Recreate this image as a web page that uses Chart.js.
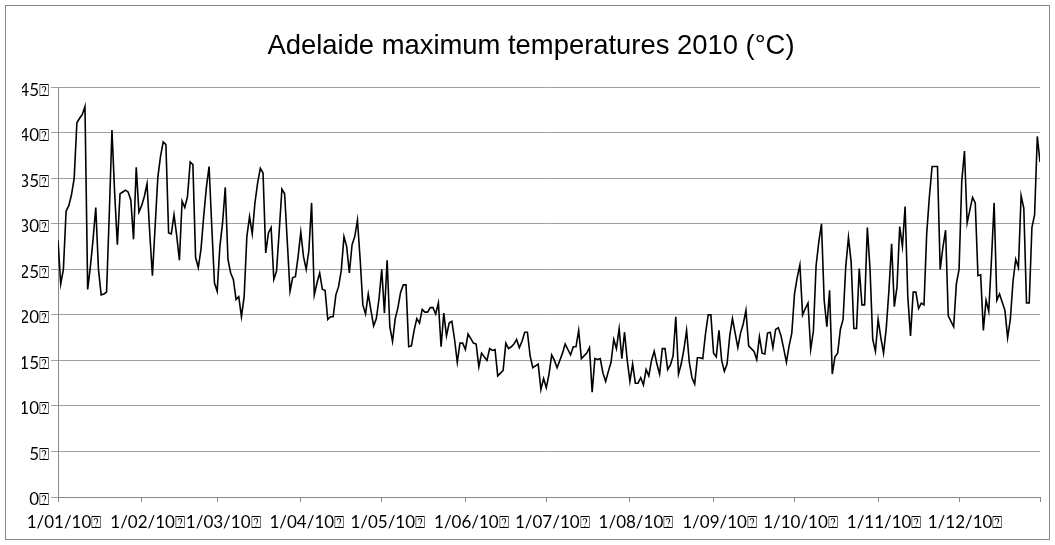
<!DOCTYPE html>
<html>
<head>
<meta charset="utf-8">
<script src="https://cdn.jsdelivr.net/npm/chart.js@4/dist/chart.umd.min.js"></script>
<style>
  html, body { margin: 0; padding: 0; background: #ffffff; }
  #wrap { width: 1055px; height: 545px; position: relative; }
</style>
</head>
<body>
<div id="wrap"><canvas id="chart" width="1055" height="545"></canvas></div>
<script>
// Daily maximum temperature (°C), Adelaide 2010, one array per month
const jan = [28.2,23.4,25.0,31.4,32.0,33.2,35.0,41.1,41.6,42.0,42.9,22.8,25.3,28.3,31.8,25.0,22.2,22.3,22.5,31.0,40.3,33.4,27.7,33.3,33.5,33.7,33.5,32.6,28.3,36.2,31.3];
const feb = [32.0,33.0,34.4,29.0,24.3,29.7,35.1,37.4,39.0,38.7,29.0,28.9,31.0,28.7,26.0,32.5,31.8,33.0,36.8,36.5,26.3,25.2,27.2,30.8,34.0,36.3,29.7,23.5];
const mar = [22.6,27.5,30.1,34.0,26.1,24.6,23.9,21.7,22.0,19.8,22.0,28.6,30.8,28.9,32.3,34.5,36.1,35.6,26.8,29.0,29.6,23.9,24.8,29.2,33.8,33.3,28.0,22.6,24.1,24.2,26.4];
const apr = [29.1,26.4,25.0,27.1,32.3,22.2,23.5,24.6,22.8,22.7,19.5,19.8,19.8,22.2,23.1,24.9,28.6,27.5,24.6,27.7,28.6,30.4,26.1,21.1,20.1,22.3,20.5,18.8,19.6,21.8];
const may = [25.0,20.2,26.0,18.7,17.1,19.6,20.8,22.5,23.3,23.3,16.5,16.6,18.3,19.6,19.1,20.6,20.3,20.3,20.8,20.8,20.1,21.3,16.5,20.2,17.7,19.1,19.3,17.3,14.8,16.9,16.9];
const jun = [16.2,17.9,17.4,16.9,16.8,14.3,15.8,15.4,15.0,16.3,16.1,16.2,13.3,13.6,13.9,16.9,16.3,16.5,16.8,17.3,16.4,17.1,18.1,18.1,15.5,14.2,14.4,14.6,11.8,13.0];
const jul = [12.0,13.5,15.6,15.0,14.2,15.0,15.8,16.8,16.2,15.6,16.5,16.5,18.3,15.2,15.5,15.8,16.4,11.5,15.2,15.1,15.2,13.6,12.7,13.8,14.8,17.3,16.3,18.5,15.2,18.1,15.0];
const aug = [12.7,14.6,12.5,12.5,13.1,12.3,14.0,13.3,15.0,16.0,14.6,13.5,16.3,16.3,14.0,14.5,15.5,19.8,13.5,14.6,16.2,18.3,14.8,13.1,12.4,15.3,15.3,15.2,17.9,20.0,20.0];
const sep = [15.8,15.4,18.3,15.0,13.8,14.6,17.7,19.6,18.0,16.4,18.0,19.0,20.5,16.6,16.3,16.0,15.1,17.6,15.8,15.7,18.0,18.1,16.4,18.4,18.6,17.7,16.3,14.8,16.6,18.0];
const oct = [22.3,24.1,25.5,20.0,20.7,21.3,16.2,18.2,25.4,28.0,30.0,21.6,18.7,22.7,13.5,15.4,15.8,18.4,19.5,25.3,28.5,25.8,18.5,18.5,25.1,21.1,21.1,29.6,25.0,17.3,16.0];
const nov = [19.5,17.5,15.8,18.5,22.7,27.8,20.9,23.1,29.7,27.5,31.9,22.0,17.7,22.5,22.5,20.7,21.3,21.1,28.9,33.0,36.3,36.3,36.3,25.0,27.4,29.3,19.9,19.3,18.7,23.4];
const dec = [25.0,34.7,38.0,30.1,31.5,32.9,32.3,24.3,24.4,18.3,21.6,20.4,26.0,32.3,21.6,22.3,21.4,20.5,17.5,19.5,23.7,26.1,25.2,33.1,31.7,21.3,21.3,29.6,31.0,39.6,36.8];

// Category (month start) labels on the date axis
const monthLabels = ['1/01/10','1/02/10','1/03/10','1/04/10','1/05/10','1/06/10',
                     '1/07/10','1/08/10','1/09/10','1/10/10','1/11/10','1/12/10'];
const yTicks = [0,5,10,15,20,25,30,35,40,45];
const titleText = 'Adelaide maximum temperatures 2010 (°C)';
const unitMark = '\u2370';

const months = [jan,feb,mar,apr,may,jun,jul,aug,sep,oct,nov,dec];
const temps = months.flat();
const points = temps.map((v, i) => ({ x: i, y: v }));

// day index of the first day of every month, plus the last day of the year
const monthStarts = [];
let acc = 0;
months.forEach(m => { monthStarts.push(acc); acc += m.length; });
const lastDay = temps.length - 1;
const xTickValues = monthStarts.concat([lastDay]);
const xTickText = {};
monthStarts.forEach((d, i) => { xTickText[d] = monthLabels[i] + unitMark; });

const frame = {
  id: 'frame',
  beforeDraw(chart) {
    const c = chart.ctx;
    c.save();
    c.fillStyle = '#ffffff';
    c.fillRect(0, 0, chart.width, chart.height);
    c.restore();
  },
  afterDraw(chart) {
    const c = chart.ctx;
    c.save();
    c.strokeStyle = '#868686';
    c.lineWidth = 1;
    c.strokeRect(5.5, 5.5, chart.width - 11, chart.height - 11);
    c.restore();
  }
};

const tickFont = { family: 'Lato', size: 17 };

function draw() {
  new Chart(document.getElementById('chart'), {
    type: 'line',
    data: {
      datasets: [{
        data: points,
        borderColor: '#000000',
        borderWidth: 1.6,
        pointRadius: 0,
        tension: 0,
        fill: false
      }]
    },
    options: {
      responsive: false,
      animation: false,
      layout: { padding: { top: 6, left: 22, right: 15, bottom: 6 } },
      plugins: {
        legend: { display: false },
        tooltip: { enabled: false },
        title: {
          display: true,
          text: titleText,
          color: '#000000',
          font: { family: 'Liberation Sans', size: 27.4, weight: 'normal' },
          padding: { top: 24, bottom: 24.4 }
        }
      },
      scales: {
        x: {
          type: 'linear',
          min: 0,
          max: lastDay,
          afterBuildTicks(scale) {
            scale.ticks = xTickValues.map(v => ({ value: v }));
          },
          afterFit(scale) { scale.height = 42; },
          ticks: {
            autoSkip: false,
            maxRotation: 0,
            color: '#000000',
            padding: 10,
            labelOffset: 6,
            font: tickFont,
            callback: (v) => xTickText[v] || ''
          },
          grid: {
            drawOnChartArea: false,
            drawTicks: true,
            tickLength: 5,
            color: '#888888',
            lineWidth: 1
          },
          border: { display: true, color: '#888888', width: 1 }
        },
        y: {
          min: 0,
          max: 45,
          afterBuildTicks(scale) {
            scale.ticks = yTicks.map(v => ({ value: v }));
          },
          afterFit(scale) { scale.width = 36; },
          ticks: {
            color: '#000000',
            padding: 2,
            labelOffset: 3,
            font: tickFont,
            callback: (v) => v + unitMark
          },
          grid: {
            drawOnChartArea: true,
            drawTicks: true,
            tickLength: 7,
            color: '#a0a0a0',
            lineWidth: 1
          },
          border: { display: true, color: '#888888', width: 1 }
        }
      }
    },
    plugins: [frame]
  });
}

Promise.all([
  document.fonts.load('17px Lato'),
  document.fonts.load('27px "Liberation Sans"')
]).then(draw, draw);
</script>
</body>
</html>
